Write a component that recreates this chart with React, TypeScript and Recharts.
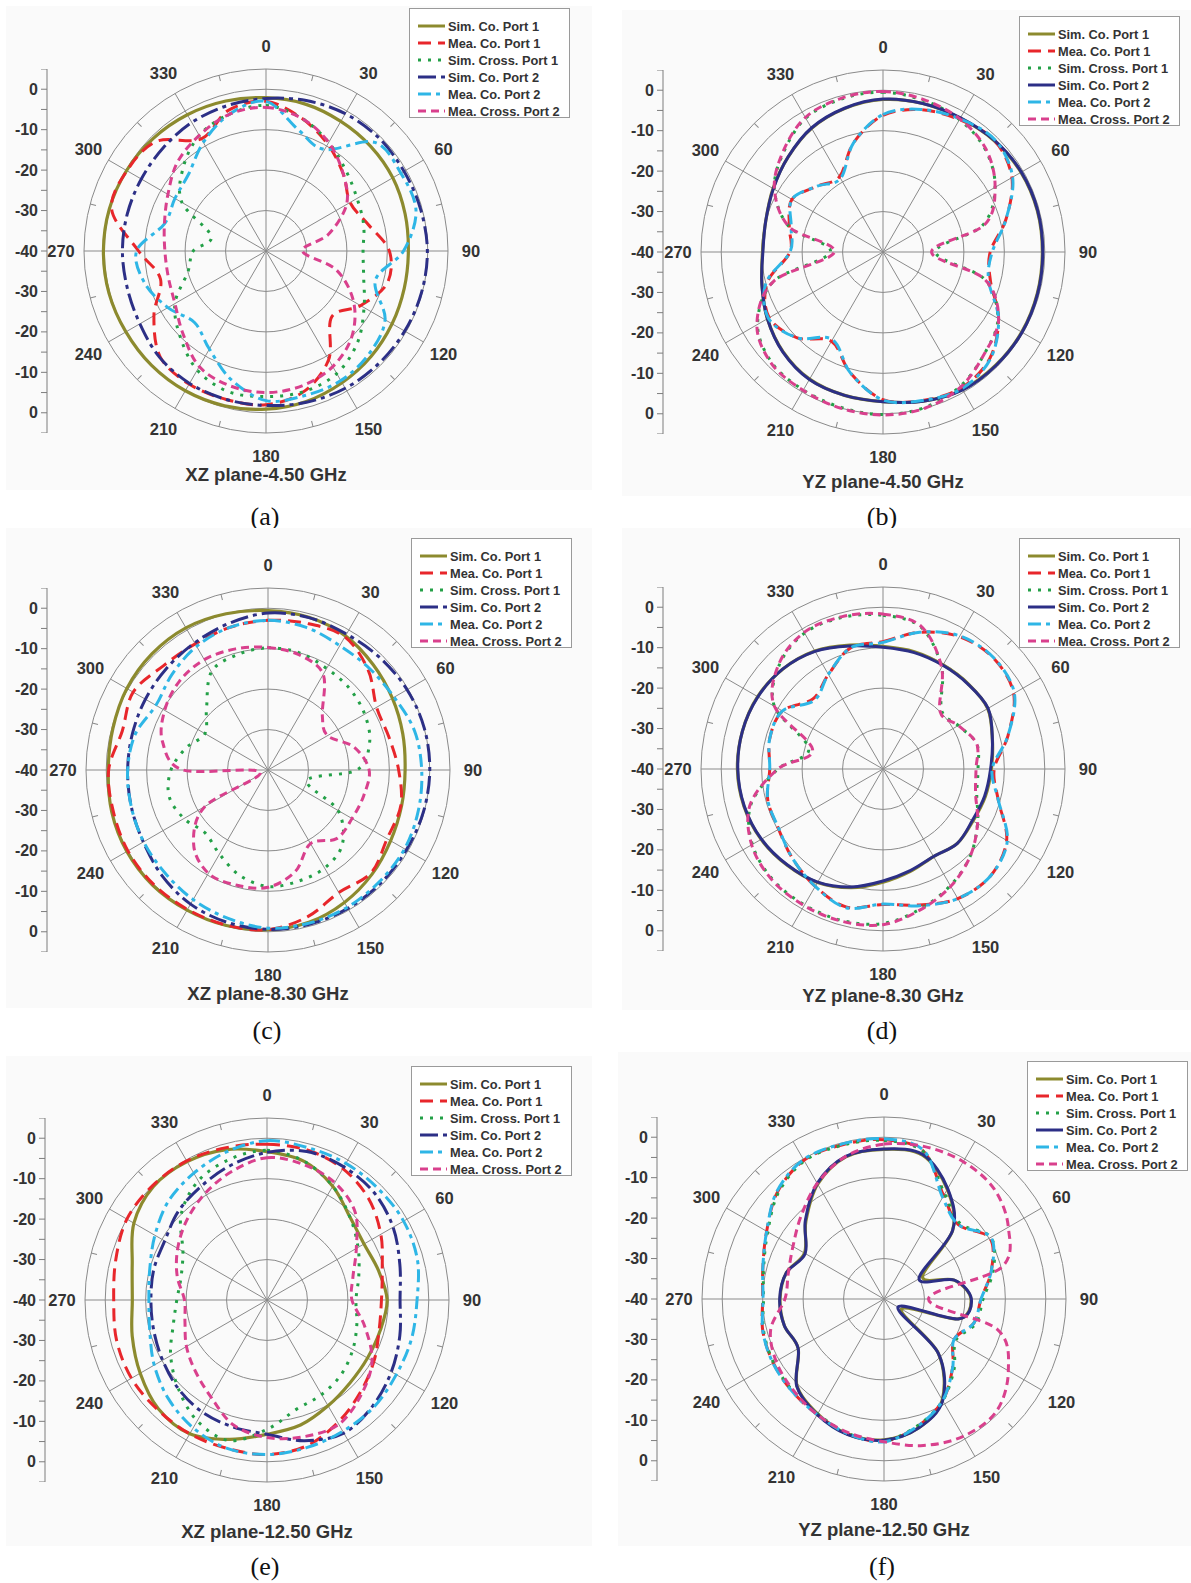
import React from 'react';
import { RadarChart, Radar, PolarGrid, PolarAngleAxis, PolarRadiusAxis, LineChart, YAxis } from 'recharts';

// sampling angles (deg, clockwise from top) and axis ticks
const ANGLES = [0, 15, 30, 45, 60, 75, 90, 105, 120, 135, 150, 165, 180, 195, 210, 225, 240, 255, 270, 285, 300, 315, 330, 345];
const ANGLE_TICKS = [0, 30, 60, 90, 120, 150, 180, 210, 240, 270, 300, 330];
const RADIUS_TICKS = [-40, -30, -20, -10, 0, 5];
const SIDE_TICKS = [-45, -40, -35, -30, -25, -20, -15, -10, -5, 0, 5, 10, 15, 20, 25, 30, 35, 40, 45];

// (a) XZ plane 4.50 GHz
const A_SIM_CO_P1 = [-2.1, -2.4, -3, -3.4, -3.8, -4.4, -4.8, -4.6, -4, -3.2, -2.4, -1.5, -0.9, -0.4, -0.1, 0, 0, 0.2, 0.2, 0.1, -0.2, -0.6, -1.1, -1.6];
const A_MEA_CO_P1 = [-3, -6, -9.5, -13, -16, -14, -9.5, -9, -13, -17, -9, -4, -2, -2, -2, -3, -8, -13, -8.5, -0.5, -0.3, -1.7, -8, -4];
const A_SIM_CROSS_P1 = [-4, -6, -9, -12, -14, -15, -16, -15, -12, -8, -5, -4, -4, -4, -6, -10, -14, -20, -22, -26, -16, -11, -7, -5];
const A_SIM_CO_P2 = [-2.3, -1.5, -0.8, -0.5, -0.6, -0.4, -0.1, -0.2, -0.4, -0.6, -0.8, -1.3, -1.8, -2, -2.2, -2.8, -4, -4.5, -4.5, -4.5, -4.4, -4, -3.3, -2.8];
const A_MEA_CO_P2 = [-3, -9, -11, -2, -1.5, -1.6, -6, -12, -6, -4, -3, -3, -3, -7, -12, -15, -12, -9, -8, -14, -14, -13, -9, -5];
const A_MEA_CROSS_P2 = [-4.5, -6, -9, -13, -17, -24, -31, -22, -15, -10, -7, -5.5, -5, -5.5, -7, -11, -14, -15, -15, -14, -12, -9, -7, -5];

// (b) YZ plane 4.50 GHz
const B_SIM_CO_P1 = [-2.3, -2, -1.8, -1.1, -0.6, -0.5, -0.6, -0.5, -0.4, -0.5, -0.7, -1.8, -3, -3.3, -3.7, -5.1, -7, -9, -10.2, -10, -8.6, -6.8, -4.7, -3.3];
const B_MEA_CO_P1 = [-6.2, -3.6, -2.2, -1, -3.2, -8.5, -13.5, -12.5, -7, -2.7, -1.2, -2, -3.5, -9, -14.5, -10, -7.5, -10.3, -17, -16, -14, -17, -18.5, -12];
const B_SIM_CROSS_P1 = [-0.5, -1.2, -2.2, -4.2, -8, -14.5, -27, -14, -7.2, -4.5, -1.7, -0.2, 0.2, -0.2, -0.6, -1.2, -4.2, -12, -27, -16, -9, -5.2, -1.8, -0.8];
const B_SIM_CO_P2 = [-2.2, -2, -1.7, -1, -0.5, -0.4, -0.5, -0.4, -0.3, -0.4, -0.6, -1.8, -3, -3.3, -3.6, -5, -7, -9, -10.3, -10, -8.7, -6.8, -4.6, -3.2];
const B_MEA_CO_P2 = [-6, -3.5, -2, -0.8, -3, -8.5, -13, -13, -7, -2.5, -1, -2, -3.4, -9, -15, -10, -7.3, -10, -17, -16.5, -14, -17, -19, -12];
const B_MEA_CROSS_P2 = [-0.3, -1, -2, -4, -8, -14, -28, -14, -7, -4.5, -1.5, 0, 0.3, 0, -0.5, -1, -4, -12, -28, -16, -9, -5, -1.6, -0.6];

// (c) XZ plane 8.30 GHz
const C_SIM_CO_P1 = [-0.6, -0.9, -1.7, -3.2, -4.5, -5.5, -6.1, -5.8, -5, -3.6, -2.2, -1, -0.5, -0.2, 0, 0.3, 0.3, 0, -0.5, -0.3, 0.3, 0.6, 0.6, 0];
const C_MEA_CO_P1 = [-3, -2.5, -2, -5, -9, -9, -7.7, -6, -6, -4, -5, -2.4, -0.5, -0.3, -0.2, 0, 0, -0.4, -0.6, -2.7, -1.5, -3.5, -4, -3.5];
const C_SIM_CROSS_P1 = [-9.8, -10, -11, -11.5, -12.4, -14, -18, -30, -20, -14, -12, -11.5, -11.2, -13, -16, -18, -16, -14.7, -16, -19, -22, -18.5, -12, -10.5];
const C_SIM_CO_P2 = [-1.2, -1, -1.2, -0.8, -0.3, 0, 0, -0.2, -0.5, -0.5, -0.5, -0.5, -0.6, -1, -1.7, -3, -4.4, -5, -5.3, -5.3, -5, -4.5, -3.7, -2.5];
const C_MEA_CO_P2 = [-3, -3.5, -4.5, -4.5, -4, -2.5, -2, -1.5, -1, -1, -0.8, -0.8, -0.9, -2, -3, -4, -4.5, -5, -5.3, -6, -8, -6.5, -4.7, -3.5];
const C_MEA_CROSS_P2 = [-9.7, -10.5, -12.7, -21, -23, -18, -15, -15.5, -16, -16, -19, -14, -11, -10.5, -10.5, -14, -22, -38, -19, -13, -10.5, -9, -8.5, -9];

// (d) YZ plane 8.30 GHz
const D_SIM_CO_P1 = [-9.7, -10, -10.3, -10.2, -10.1, -12, -13.2, -13.8, -14.3, -14, -15, -13.8, -12, -9.6, -7.6, -6.4, -5.2, -4.4, -4, -4, -4.2, -5, -6.3, -8.3];
const D_MEA_CO_P1 = [-8.5, -5, -2.2, -1.3, -2.7, -8, -12.5, -10.5, -4.7, -2.5, -3, -5.2, -6.5, -4.7, -6.5, -8.5, -10.2, -10.5, -12, -11, -11.3, -15.5, -13, -9];
const D_SIM_CROSS_P1 = [-2, -3.7, -11, -19.5, -18.5, -16, -16.5, -16, -13, -9.5, -6.7, -4.2, -1.8, -1.2, -1.2, -1.4, -2.7, -6.2, -14, -21, -9, -3.7, -1.2, -1.2];
const D_SIM_CO_P2 = [-9.9, -10.2, -10.4, -10.3, -10, -12, -13.4, -14, -14.5, -14, -15, -14, -12.3, -9.8, -7.7, -6.5, -5.3, -4.5, -4.1, -4, -4.3, -5, -6.4, -8.5];
const D_MEA_CO_P2 = [-8.7, -5, -2, -1.2, -2.5, -8, -13, -10.5, -4.5, -2.5, -3, -5, -6.6, -4.5, -6.5, -8.5, -10.3, -10.5, -12, -11, -11.3, -16, -13, -9];
const D_MEA_CROSS_P2 = [-1.7, -3.5, -11, -20, -18.5, -16, -17, -16.3, -13, -9.5, -6.5, -4, -1.5, -1, -1, -1.2, -2.5, -6, -14, -22, -9, -3.5, -1, -1];

// (e) XZ plane 12.50 GHz
const E_SIM_CO_P1 = [-3.3, -4.5, -7.5, -11, -12.3, -11.5, -10.3, -11, -11.3, -11, -9.8, -8, -6.8, -4.3, -1.8, -2, -3.8, -5.5, -6.7, -5.5, -2, -0.3, -0.5, -1.5];
const E_MEA_CO_P1 = [-1.5, -1.6, -2.5, -4.5, -7.5, -10.5, -11.7, -11.3, -9.5, -7.5, -5, -2.6, -1.8, -2, -1.8, -1.7, -1.3, -1.5, -2.1, -1.3, 0, 0, -0.3, -1];
const E_SIM_CROSS_P1 = [-3, -4.5, -7.5, -11, -14, -16.5, -18, -17, -15.5, -14, -13, -12, -8, -4, -5.5, -9, -12.5, -16, -17.7, -18, -16, -10, -6, -4];
const E_SIM_CO_P2 = [-3.5, -2, -2, -2.5, -4, -6, -7.1, -6, -4.5, -3, -2, -4, -6.8, -7.5, -8, -9, -10.2, -11, -11.3, -11, -10.8, -9, -7.5, -5.5];
const E_MEA_CO_P2 = [-0.6, -1, -1, -1.1, -1, -1.5, -2.9, -3, -3.1, -2.6, -2.5, -2.2, -1.8, -2, -3.5, -5.5, -7.8, -10, -10.8, -10, -8, -5.5, -3.8, -2];
const E_MEA_CROSS_P2 = [-4.8, -5.3, -6.5, -9.2, -14.5, -18, -19, -15, -10, -7, -4.5, -5, -6, -8, -12.3, -15, -17, -19, -19.6, -17, -14.5, -12, -9.5, -7];

// (f) YZ plane 12.50 GHz
const F_SIM_CO_P1 = [-3, -3.2, -8.7, -16, -29, -22, -18.5, -21, -35, -21, -11.2, -7, -5.2, -5.4, -7.2, -9.6, -15.5, -14.5, -14.3, -15, -17.3, -12.7, -7.2, -3.6];
const F_MEA_CO_P1 = [-0.6, -2.2, -10.5, -14, -9.8, -12.5, -16, -17, -20, -16, -11, -7.5, -4.8, -5.5, -7, -7.8, -8.4, -9, -10, -9, -6.5, -2.7, -0.4, -0.5];
const F_SIM_CROSS_P1 = [-0.8, -2.3, -10, -13.5, -9.5, -12, -15.5, -16.5, -19.5, -15.5, -11, -7.6, -5, -5.6, -7.2, -8, -8.5, -9.2, -10.2, -9.2, -6.8, -3, -0.6, -0.6];
const F_SIM_CO_P2 = [-2.9, -3, -8.5, -16, -30, -22, -18.4, -21, -36, -21, -11, -7, -5.1, -5.3, -7, -9.5, -15.5, -14.5, -14.2, -15, -17.5, -12.5, -7, -3.5];
const F_MEA_CO_P2 = [-0.4, -2, -11, -14, -9.5, -12.5, -16, -17, -20, -16, -11, -7.5, -4.7, -5.5, -7, -7.8, -8.3, -9, -10.1, -9, -6.5, -2.5, -0.2, -0.3];
const F_MEA_CROSS_P2 = [-1.7, -1, -0.8, -1.5, -4.5, -10, -29, -11, -4.5, -0.7, -0.8, -2.5, -4.7, -5.8, -7, -8.2, -9.2, -11, -15.5, -15.5, -14, -11, -7, -3.5];

const SERIES = [
  { key: 'simCo1', name: 'Sim. Co. Port 1', color: '#8c8a2e', width: 3.2, dash: '' },
  { key: 'meaCo1', name: 'Mea. Co. Port 1', color: '#e8262b', width: 3, dash: '13 7' },
  { key: 'simX1', name: 'Sim. Cross. Port 1', color: '#23a047', width: 3, dash: '3 7' },
  { key: 'simCo2', name: 'Sim. Co. Port 2', color: '#2c2f86', width: 3, dash: '18 5 4 5' },
  { key: 'meaCo2', name: 'Mea. Co. Port 2', color: '#2eb6e6', width: 3, dash: '13 5 4 5' },
  { key: 'meaX2', name: 'Mea. Cross. Port 2', color: '#d9408d', width: 3, dash: '8 5' },
];

const PANELS = [
  { id: 'a', title: 'XZ plane-4.50 GHz', cols: [A_SIM_CO_P1, A_MEA_CO_P1, A_SIM_CROSS_P1, A_SIM_CO_P2, A_MEA_CO_P2, A_MEA_CROSS_P2],
    cx: 266, cy: 251, axisX: 47, legend: [409, 8], titleY: 475, capX: 265, capY: 517, solidCo2: false, bg: [6, 6, 586, 484] },
  { id: 'b', title: 'YZ plane-4.50 GHz', cols: [B_SIM_CO_P1, B_MEA_CO_P1, B_SIM_CROSS_P1, B_SIM_CO_P2, B_MEA_CO_P2, B_MEA_CROSS_P2],
    cx: 883, cy: 252, axisX: 663, legend: [1019, 16], titleY: 482, capX: 882, capY: 517, solidCo2: true, bg: [622, 10, 569, 486] },
  { id: 'c', title: 'XZ plane-8.30 GHz', cols: [C_SIM_CO_P1, C_MEA_CO_P1, C_SIM_CROSS_P1, C_SIM_CO_P2, C_MEA_CO_P2, C_MEA_CROSS_P2],
    cx: 268, cy: 770, axisX: 47, legend: [411, 538], titleY: 994, capX: 267, capY: 1031, solidCo2: false, bg: [6, 528, 586, 480] },
  { id: 'd', title: 'YZ plane-8.30 GHz', cols: [D_SIM_CO_P1, D_MEA_CO_P1, D_SIM_CROSS_P1, D_SIM_CO_P2, D_MEA_CO_P2, D_MEA_CROSS_P2],
    cx: 883, cy: 769, axisX: 663, legend: [1019, 538], titleY: 996, capX: 882, capY: 1031, solidCo2: true, bg: [622, 528, 569, 482] },
  { id: 'e', title: 'XZ plane-12.50 GHz', cols: [E_SIM_CO_P1, E_MEA_CO_P1, E_SIM_CROSS_P1, E_SIM_CO_P2, E_MEA_CO_P2, E_MEA_CROSS_P2],
    cx: 267, cy: 1300, axisX: 45, legend: [411, 1066], titleY: 1532, capX: 265, capY: 1567, solidCo2: false, bg: [6, 1056, 586, 490] },
  { id: 'f', title: 'YZ plane-12.50 GHz', cols: [F_SIM_CO_P1, F_MEA_CO_P1, F_SIM_CROSS_P1, F_SIM_CO_P2, F_MEA_CO_P2, F_MEA_CROSS_P2],
    cx: 884, cy: 1299, axisX: 657, legend: [1027, 1061], titleY: 1530, capX: 882, capY: 1567, solidCo2: true, bg: [618, 1052, 573, 494] },
];

const FONT = '"Liberation Sans", Arial, sans-serif';
const OUTER = 182;
const HALF = 235;

const buildRows = (cols: number[][]) =>
  ANGLES.map((angle, i) => {
    const row: Record<string, number> = { angle };
    SERIES.forEach((s, k) => {
      row[s.key] = cols[k][i];
    });
    return row;
  });

// closed Catmull-Rom curve through the points recharts computed
const SmoothRadar = (props: any) => {
  const pts = props.points as { x: number; y: number }[];
  if (!pts || pts.length < 3) return null;
  const n = pts.length;
  let d = `M${pts[0].x},${pts[0].y}`;
  for (let i = 0; i < n; i++) {
    const p0 = pts[(i - 1 + n) % n];
    const p1 = pts[i];
    const p2 = pts[(i + 1) % n];
    const p3 = pts[(i + 2) % n];
    const c1x = p1.x + (p2.x - p0.x) / 6;
    const c1y = p1.y + (p2.y - p0.y) / 6;
    const c2x = p2.x - (p3.x - p1.x) / 6;
    const c2y = p2.y - (p3.y - p1.y) / 6;
    d += ` C${c1x},${c1y} ${c2x},${c2y} ${p2.x},${p2.y}`;
  }
  return (
    <path d={d + 'Z'} fill="none" stroke={props.stroke} strokeWidth={props.strokeWidth}
      strokeDasharray={props.strokeDasharray || undefined} strokeLinejoin="round" />
  );
};

// angle label plus the small inward tick half-way to the next spoke
const AngleTick = (props: any) => {
  const cx = props.cx ?? HALF;
  const cy = props.cy ?? HALF;
  const dx = props.x - cx;
  const dy = props.y - cy;
  const len = Math.hypot(dx, dy) || 1;
  const ux = dx / len;
  const uy = dy / len;
  return (
    <g>
      <line x1={cx + ux * OUTER} y1={cy + uy * OUTER} x2={cx + ux * (OUTER - 6)} y2={cy + uy * (OUTER - 6)}
        stroke="#8a8a8a" strokeWidth={1} transform={`rotate(15 ${cx} ${cy})`} />
      <text x={props.x} y={props.y} textAnchor="middle" dominantBaseline="central"
        fontFamily={FONT} fontSize={16.5} fontWeight="bold" fill="#333">
        {props.payload.value}
      </text>
    </g>
  );
};

const SideTick = (props: any) => {
  const v = props.payload.value;
  if (v % 10 !== 0) return <g />;
  return (
    <text x={props.x} y={props.y} textAnchor="end" dominantBaseline="central"
      fontFamily={FONT} fontSize={16} fontWeight="bold" fill="#333">
      {Math.abs(v) - 40}
    </text>
  );
};

function LegendBox({ x, y, solidCo2 }: { x: number; y: number; solidCo2: boolean }) {
  return (
    <div style={{ position: 'absolute', left: x, top: y, width: 161, height: 110, boxSizing: 'border-box',
      border: '1px solid #9a9a9a', background: '#fff', paddingTop: 8.5, paddingLeft: 8 }}>
      {SERIES.map((s) => (
        <div key={s.key} style={{ display: 'flex', alignItems: 'center', height: 17 }}>
          <svg width={27} height={8}>
            <line x1={0} y1={4} x2={27} y2={4} stroke={s.color} strokeWidth={3}
              strokeDasharray={s.key === 'simCo2' && solidCo2 ? undefined : s.dash || undefined} />
          </svg>
          <span style={{ marginLeft: 3, fontFamily: FONT, fontSize: 12.8, fontWeight: 'bold', color: '#333', whiteSpace: 'nowrap' }}>
            {s.name}
          </span>
        </div>
      ))}
    </div>
  );
}

function Panel({ p }: { p: (typeof PANELS)[number] }) {
  const data = buildRows(p.cols);
  return (
    <>
      <div style={{ position: 'absolute', left: p.bg[0], top: p.bg[1], width: p.bg[2], height: p.bg[3], background: '#fafafa' }} />
      <div style={{ position: 'absolute', left: p.cx - HALF, top: p.cy - HALF }}>
        <RadarChart width={HALF * 2} height={HALF * 2} data={data} cx={HALF} cy={HALF} outerRadius={OUTER}
          margin={{ top: 0, right: 0, bottom: 0, left: 0 }}>
          <PolarGrid gridType="circle" stroke="#8a8a8a" strokeWidth={1} />
          <PolarAngleAxis dataKey="angle" type="number" domain={[0, 360]} ticks={ANGLE_TICKS}
            tick={AngleTick} tickSize={23} tickLine={false} axisLine={false} />
          <PolarRadiusAxis type="number" domain={[-40, 5]} ticks={RADIUS_TICKS} allowDataOverflow
            tick={false} axisLine={false} tickLine={false} />
          {SERIES.map((s) => (
            <Radar key={s.key} dataKey={s.key} name={s.name} stroke={s.color} strokeWidth={s.width}
              strokeDasharray={s.key === 'simCo2' && p.solidCo2 ? '' : s.dash}
              fill="none" fillOpacity={0} dot={false} isAnimationActive={false} shape={SmoothRadar} />
          ))}
        </RadarChart>
      </div>
      <div style={{ position: 'absolute', left: p.axisX - 60, top: p.cy - OUTER }}>
        <LineChart width={62} height={OUTER * 2} data={[{ v: 0 }]} margin={{ top: 0, right: 0, bottom: 0, left: 0 }}>
          <YAxis type="number" domain={[-45, 45]} allowDataOverflow ticks={SIDE_TICKS} interval={0} width={60}
            stroke="#7d7d7d" tickSize={6} tickMargin={3} tick={SideTick} />
        </LineChart>
      </div>
      <LegendBox x={p.legend[0]} y={p.legend[1]} solidCo2={p.solidCo2} />
      <div style={{ position: 'absolute', left: p.cx, top: p.titleY, transform: 'translate(-50%, -50%)',
        fontFamily: FONT, fontSize: 18.5, fontWeight: 'bold', color: '#333', whiteSpace: 'nowrap', lineHeight: 1 }}>
        {p.title}
      </div>
      <div style={{ position: 'absolute', left: p.capX, top: p.capY, transform: 'translate(-50%, -50%)',
        fontFamily: '"Liberation Serif", "Times New Roman", serif', fontSize: 26, color: '#111', whiteSpace: 'nowrap', lineHeight: 1 }}>
        ({p.id})
      </div>
    </>
  );
}

export default function App() {
  return (
    <div style={{ position: 'absolute', left: 0, top: 0, width: 1191, height: 1583, background: '#fff', overflow: 'hidden' }}>
      {PANELS.map((p) => (
        <Panel key={p.id} p={p} />
      ))}
    </div>
  );
}
